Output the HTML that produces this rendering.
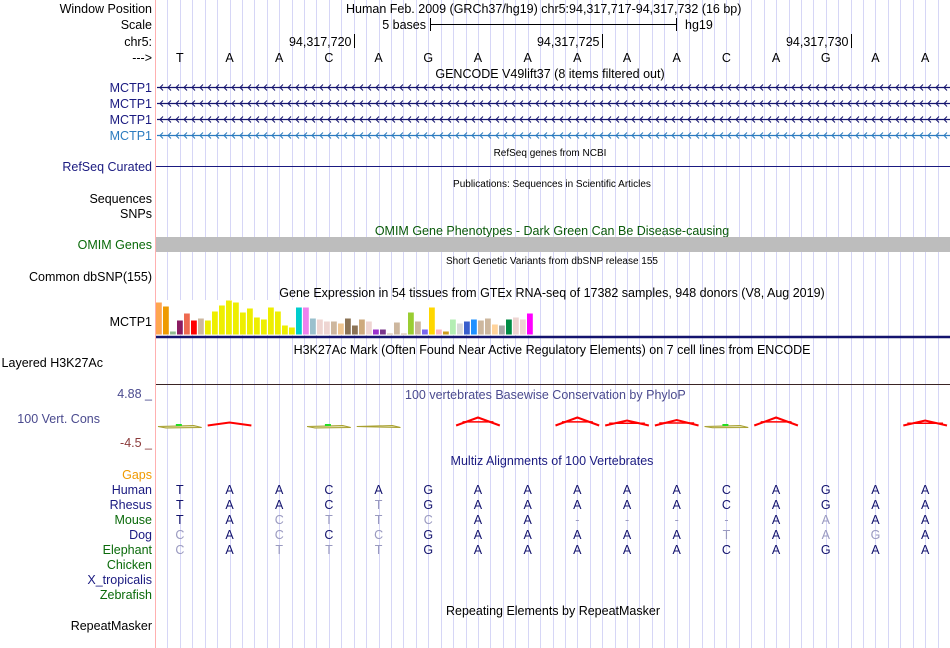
<!DOCTYPE html>
<html><head><meta charset="utf-8">
<style>
html,body{margin:0;padding:0;background:#fff;}
svg{display:block;font-family:"Liberation Sans",Arial,sans-serif;}
</style></head>
<body>
<svg id="g" width="950" height="648" viewBox="0 0 950 648">
<g id="grid"></g>
<line x1="155.5" y1="0" x2="155.5" y2="648" stroke="#ffb0b0"/>
<g font-size="12.5" text-anchor="end" fill="#000">
<text x="152" y="13">Window Position</text>
<text x="152" y="29">Scale</text>
<text x="152" y="46">chr5:</text>
<text x="152" y="62">---&gt;</text>
<text x="152" y="92" fill="#1a1a80">MCTP1</text>
<text x="152" y="108" fill="#1a1a80">MCTP1</text>
<text x="152" y="124" fill="#1a1a80">MCTP1</text>
<text x="152" y="140" fill="#2b7bbf">MCTP1</text>
<text x="152" y="171" fill="#1a1a80">RefSeq Curated</text>
<text x="152" y="203">Sequences</text>
<text x="152" y="218">SNPs</text>
<text x="152" y="249" fill="#0a6a0a">OMIM Genes</text>
<text x="152" y="281">Common dbSNP(155)</text>
<text x="152" y="326">MCTP1</text>
<text x="103" y="367">Layered H3K27Ac</text>
<text x="152" y="398" fill="#4a4a8e">4.88 _</text>
<text x="100" y="423" fill="#4a4a8e">100 Vert. Cons</text>
<text x="152" y="447" fill="#8b3a3a">-4.5 _</text>
<text x="152" y="479" fill="#f09a00">Gaps</text>
<text x="152" y="494" fill="#1a1a80">Human</text>
<text x="152" y="509" fill="#1a1a80">Rhesus</text>
<text x="152" y="524" fill="#0a6a0a">Mouse</text>
<text x="152" y="539" fill="#1a1a80">Dog</text>
<text x="152" y="554" fill="#0a6a0a">Elephant</text>
<text x="152" y="569" fill="#0a6a0a">Chicken</text>
<text x="152" y="584" fill="#1a1a80">X_tropicalis</text>
<text x="152" y="599" fill="#0a6a0a">Zebrafish</text>
<text x="152" y="630">RepeatMasker</text>
</g>
<g font-size="12.5" fill="#000">
<text x="346" y="13">Human Feb. 2009 (GRCh37/hg19)   chr5:94,317,717-94,317,732 (16 bp)</text>
<text x="426" y="29" text-anchor="end">5 bases</text>
<line x1="430" y1="24.5" x2="677" y2="24.5" stroke="#000"/>
<line x1="430.5" y1="18" x2="430.5" y2="31" stroke="#000"/>
<line x1="676.5" y1="18" x2="676.5" y2="31" stroke="#000"/>
<text x="685" y="29">hg19</text>
<g id="ruler-ticks"></g>
<g id="ruler-bases" text-anchor="middle"></g>
<text x="550" y="78" text-anchor="middle">GENCODE V49lift37 (8 items filtered out)</text>
</g>
<g id="genes"></g>
<g font-size="10" text-anchor="middle">
<text x="550" y="156">RefSeq genes from NCBI</text>
<text x="552" y="187">Publications: Sequences in Scientific Articles</text>
<text x="552" y="264">Short Genetic Variants from dbSNP release 155</text>
</g>
<line x1="156" y1="166.5" x2="950" y2="166.5" stroke="#1a1a80"/>
<text x="552" y="235" font-size="12.5" text-anchor="middle" fill="#0a5a0a">OMIM Gene Phenotypes - Dark Green Can Be Disease-causing</text>
<rect x="156" y="237" width="794" height="15" fill="#bdbdbd"/>
<text x="552" y="297" font-size="12.5" text-anchor="middle">Gene Expression in 54 tissues from GTEx RNA-seq of 17382 samples, 948 donors (V8, Aug 2019)</text>
<rect x="156" y="300" width="378" height="35" fill="#fff"/>
<g id="gtex"></g>
<line x1="156" y1="337" x2="950" y2="337" stroke="#14146e" stroke-width="2.5"/>
<text x="552" y="354" font-size="12.5" text-anchor="middle">H3K27Ac Mark (Often Found Near Active Regulatory Elements) on 7 cell lines from ENCODE</text>
<line x1="156" y1="384.5" x2="950" y2="384.5" stroke="#3a2424"/>
<text x="405" y="399" font-size="12.5" fill="#4a4a8e">100 vertebrates Basewise Conservation by PhyloP</text>
<g id="phylop"></g>
<text x="552" y="465" font-size="12.5" text-anchor="middle" fill="#1a1a80">Multiz Alignments of 100 Vertebrates</text>
<g id="multiz" font-size="12.5" text-anchor="middle"></g>
<text x="553" y="615" font-size="12.5" text-anchor="middle">Repeating Elements by RepeatMasker</text>
</svg>
<script>
const bases = ["T","A","A","C","A","G","A","A","A","A","A","C","A","G","A","A"];
const startPos = 94317717;
const gtexHeights = [32,28,3,14,21,14,16,14,23,29,34,32,22,26,17,15,27,23,9,7,27,27,16,15,13,13,11,16,9,15,13,5,5,1,12,1,22,13,5,27,5,3,15,11,13,15,14,16,10,9,15,17,15,21];
const gtexColors = ["#FFA54F","#EE9A00","#8FBC8F","#8B1C62","#EE6A50","#FF0000","#CDB79E","#EEEE00","#EEEE00","#EEEE00","#EEEE00","#EEEE00","#EEEE00","#EEEE00","#EEEE00","#EEEE00","#EEEE00","#EEEE00","#EEEE00","#EEEE00","#00CDCD","#EE82EE","#9AC0CD","#EED5D2","#EED5D2","#CDB79E","#EEC591","#8B7355","#8B7355","#CDAA7D","#EED5D2","#9A32CD","#7A378B","#CDB79E","#CDB79E","#CDB79E","#9ACD32","#CDB79E","#7A67EE","#FFD700","#FFB6C1","#CD9B1D","#B4EEB4","#D9D9D9","#3A5FCD","#1E90FF","#CDB79E","#CDB79E","#FFD39B","#A6A6A6","#008B45","#EED5D2","#EED5D2","#FF00FF"];
const phylopValues = [-0.6,0.6,0,-0.6,-0.1,0,1.6,0,1.6,1.0,1.1,-0.5,1.6,0,0,1.0];
const species = ["Human","Rhesus","Mouse","Dog","Elephant"];
const seqHuman    = ["T","A","A","C","A","G","A","A","A","A","A","C","A","G","A","A"];
const seqRhesus   = ["T","A","A","C","T","G","A","A","A","A","A","C","A","G","A","A"];
const seqMouse    = ["T","A","C","T","T","C","A","A","-","-","-","-","A","A","A","A"];
const seqDog      = ["C","A","C","C","C","G","A","A","A","A","A","T","A","A","G","A"];
const seqElephant = ["C","A","T","T","T","G","A","A","A","A","A","C","A","G","A","A"];
const rulerTicks = [94317720,94317725,94317730];

const NS="http://www.w3.org/2000/svg";
const X0=155, W=795, N=bases.length, BW=W/N;
const bx = i => X0 + BW*(i+0.5);
function mk(tag, attrs, parent){const e=document.createElementNS(NS,tag);for(const k in attrs)e.setAttribute(k,attrs[k]);parent.appendChild(e);return e;}

const grid=document.getElementById('grid');
for(let k=1;k<N*4;k++){
  const x=Math.round(X0+k*BW/4)+0.5;
  const l=mk('line',{x1:x,y1:0,x2:x,y2:648,stroke:'#d6d6f6'},grid);
  
  
}
const rb=document.getElementById('ruler-bases');
bases.forEach((b,i)=>{
  const t=mk('text',{x:bx(i),y:62},rb);t.textContent=b;
  
  
});
const rt=document.getElementById('ruler-ticks');
rulerTicks.forEach(p=>{
  const x=Math.round(X0+BW*(p-startPos+1))+0.5;
  const l=mk('line',{x1:x,y1:34,x2:x,y2:48,stroke:'#000'},rt);
  
  
  const t=mk('text',{x:x-3,y:46,'text-anchor':'end'},rt);
  t.textContent=p.toLocaleString('en-US');
  
  
});
const genes=document.getElementById('genes');
[[87,'#14146e'],[103,'#14146e'],[119,'#14146e'],[135,'#2b7bbf']].forEach(([y,c])=>{
  const g=mk('g',{},genes);
  
  
  mk('line',{x1:157,y1:y+0.5,x2:950,y2:y+0.5,stroke:c,'stroke-width':1.3},g);
  for(let x=160;x<950;x+=8){
    mk('polyline',{points:`${x+3},${y-2.5} ${x},${y+0.5} ${x+3},${y+3.5}`,fill:'none',stroke:c,'stroke-width':1},g);
  }
});
const gt=document.getElementById('gtex');
const gBase=334.5, gStep=378/gtexHeights.length;
gtexHeights.forEach((h,i)=>{
  const r=mk('rect',{x:(156+i*gStep).toFixed(2),y:gBase-h,width:(gStep-1.2).toFixed(2),height:h,fill:gtexColors[i]},gt);
  
  
});
const ph=document.getElementById('phylop');
const pZero=425.5, pScale=5;
phylopValues.forEach((v,i)=>{
  const x1=X0+BW*i+3, x2=X0+BW*(i+1)-3, xm=bx(i);
  if(v>0){
    const h=v*pScale;
    const p=mk('polyline',{points:`${x1},${pZero} ${xm},${pZero-h} ${x2},${pZero}`,fill:'none',stroke:'#ff0000','stroke-width':2},ph);
    
    
    if(h>3){
      const l=mk('line',{x1:x1+h*0.8,y1:pZero-h*0.45,x2:x2-h*0.8,y2:pZero-h*0.45,stroke:'#ff0000','stroke-width':1.5},ph);
      
      
    }
  } else if(v<0){
    const h=-v*pScale;
    const p=mk('polygon',{points:`${x1},${pZero+1} ${x2-8},${pZero} ${x2},${pZero+2} ${x1+8},${pZero+1+h*0.5}`,fill:'#e4e4b8',stroke:'#a8a030','stroke-width':1},ph);
    
    
    if(h>1){
      const g=mk('rect',{x:xm-4,y:pZero-1.5,width:6,height:2,fill:'#22dd22'},ph);
      
      
    }
  }
});
const mz=document.getElementById('multiz');
const humanRow=seqHuman;
[seqHuman,seqRhesus,seqMouse,seqDog,seqElephant].forEach((seq,r)=>{
  seq.forEach((b,i)=>{
    const same = r===0 || b===humanRow[i];
    const t=mk('text',{x:bx(i),y:494+r*15,fill:same?'#14146e':'#9a9ac0'},mz);
    t.textContent=b;
    
    
  });
});
</script>
</body></html>
